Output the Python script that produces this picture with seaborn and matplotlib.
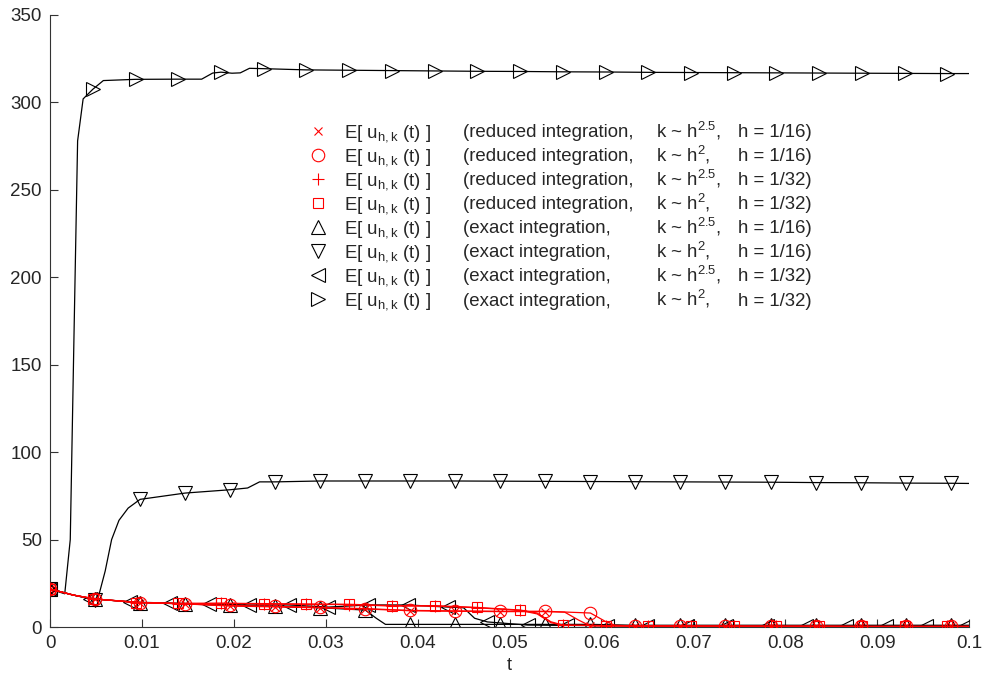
import matplotlib
matplotlib.use("Agg")
import matplotlib.pyplot as plt
from matplotlib.lines import Line2D
import pandas as pd
import seaborn as sns

# marker times (h = 1/16 runs, h = 1/32 runs, exact h = 1/32 k ~ h^2.5 run)
t_h16 = [0, 0.0049, 0.0098, 0.0147, 0.0196, 0.0245, 0.0294, 0.0343, 0.0392, 0.0441,
         0.049, 0.0539, 0.0588, 0.0637, 0.0686, 0.0735, 0.0784, 0.0833, 0.0882, 0.0931, 0.098]
t_h32 = [0, 0.00465, 0.0093, 0.01395, 0.0186, 0.02325, 0.0279, 0.03255, 0.0372, 0.04185, 0.0465,
         0.05115, 0.0558, 0.06045, 0.0651, 0.06975, 0.0744, 0.07905, 0.0837, 0.08835, 0.093, 0.09765]
t_lt = [0, 0.00433, 0.00866, 0.013, 0.0173, 0.0217, 0.026, 0.0303, 0.0346, 0.039, 0.0433, 0.0476,
        0.052, 0.0563, 0.0606, 0.065, 0.0693, 0.0736, 0.078, 0.0823, 0.0866, 0.091, 0.0953, 0.0996]

red_x = [21.7, 16, 14, 13.2, 12, 11.5, 11, 10.3, 9.3, 9, 8.8, 8.8, 0.6, 0.5, 0.5, 0.4, 0.4, 0.4, 0.3, 0.3, 0.3]
red_o = [21.7, 16, 14, 13.3, 12.3, 11.8, 11.2, 10.5, 9.5, 9.2, 9, 9, 8, 0.5, 0.5, 0.4, 0.4, 0.4, 0.3, 0.3, 0.3]
red_plus = [21.7, 16.2, 14, 13.4, 13.5, 13.2, 13, 12.8, 12, 12, 11, 9.5, 1,
            0.8, 0.6, 0.5, 0.5, 0.4, 0.4, 0.3, 0.3, 0.3]
red_sq = [21.7, 16.2, 14, 13.5, 13.6, 13.4, 13.1, 13, 12.2, 12.2, 11.2, 9.7, 1.1,
          0.8, 0.6, 0.5, 0.5, 0.4, 0.4, 0.3, 0.3, 0.3]
blk_up = [21.7, 16, 14, 13.2, 12.3, 11.8, 11, 9.7, 1.5, 1.5, 1.5, 1.5, 1.5, 1, 1, 1, 1, 1, 1, 1, 1]
blk_down = [21.7, 15.5, 73, 76.6, 78.5, 83, 83.5, 83.5, 83.5, 83.5, 83.4, 83.3, 83.2,
            83.1, 83, 82.9, 82.8, 82.6, 82.5, 82.3, 82.2]
blk_left = [21.7, 16.3, 14.3, 13.7, 13.2, 12.6, 12.6, 11.4, 12.6, 12.6, 11.4, 2.9, 1.1,
            0.9, 0.8, 0.7, 0.6, 0.6, 0.5, 0.5, 0.5, 0.5, 0.5, 0.5]
blk_right = [21.7, 307.5, 313.2, 313.3, 317.3, 319.3, 318.6, 318.4, 318.2, 318, 317.8, 317.7,
             317.5, 317.4, 317.2, 317.1, 317, 316.9, 316.8, 316.7, 316.6, 316.5]

# extra points of the lines between markers (t, value)
ext_x = [(0.0025, 18.3), (0.056, 8.5), (0.0575, 4), (0.1, 0.3)]
ext_o = [(0.0025, 18.3), (0.0605, 3), (0.0615, 1), (0.1, 0.3)]
ext_plus = [(0.0025, 18.3), (0.053, 7.5), (0.0545, 2.5), (0.1, 0.3)]
ext_sq = [(0.0025, 18.3), (0.053, 8), (0.0545, 3), (0.1, 0.3)]
ext_up = [(0.0025, 18.3), (0.0355, 5), (0.0365, 1.5), (0.1, 1)]
ext_down = [(0.0025, 18.3), (0.0054, 20), (0.006, 32), (0.0067, 50), (0.0075, 61), (0.0085, 68),
            (0.0215, 79.5), (0.0228, 83), (0.1, 82.1)]
ext_left = [(0.0025, 18.3), (0.045, 11), (0.0462, 5), (0.1, 0.5)]
ext_right = [(0.0016, 19), (0.0022, 50), (0.0026, 165), (0.003, 278), (0.0036, 302),
             (0.0058, 312.5), (0.0165, 313.3), (0.0177, 316.8), (0.0198, 316.7),
             (0.0207, 316.9), (0.0217, 319.5), (0.1, 316.5)]

integ = ["reduced", "reduced", "reduced", "reduced", "exact", "exact", "exact", "exact"]
k_exp = ["2.5", "2", "2.5", "2", "2.5", "2", "2.5", "2"]
h_val = ["1/16", "1/16", "1/32", "1/32", "1/16", "1/16", "1/32", "1/32"]

x_ticks = [0, 0.01, 0.02, 0.03, 0.04, 0.05, 0.06, 0.07, 0.08, 0.09, 0.1]
x_labels = ["0", "0.01", "0.02", "0.03", "0.04", "0.05", "0.06", "0.07", "0.08", "0.09", "0.1"]
y_ticks = [0, 50, 100, 150, 200, 250, 300, 350]

sns.set_style("ticks")
plt.rcParams["font.family"] = ["Liberation Sans", "DejaVu Sans"]
plt.rcParams["mathtext.fontset"] = "custom"
plt.rcParams["mathtext.rm"] = "Liberation Sans"
plt.rcParams["mathtext.it"] = "Liberation Sans:italic"

series = [
    (t_h16, red_x, ext_x, "red", "x", 6),
    (t_h16, red_o, ext_o, "red", "o", 9),
    (t_h32, red_plus, ext_plus, "red", "+", 9),
    (t_h32, red_sq, ext_sq, "red", "s", 7.5),
    (t_h16, blk_up, ext_up, "black", "^", 10),
    (t_h16, blk_down, ext_down, "black", "v", 10),
    (t_lt, blk_left, ext_left, "black", "<", 10),
    (t_h32, blk_right, ext_right, "black", ">", 10),
]

fig = plt.figure(figsize=(9.89, 6.75), dpi=100)
ax = fig.add_axes([0.0506, 0.0711, 0.9292, 0.9067])

handles = []
for t, y, ext, col, mk, ms in series:
    df = pd.DataFrame({
        "t": list(t) + [p[0] for p in ext],
        "y": list(y) + [p[1] for p in ext],
        "mark": [True] * len(t) + [False] * len(ext),
    }).sort_values("t")
    sns.lineplot(data=df, x="t", y="y", ax=ax, estimator=None, sort=False, legend=False,
                 color=col, lw=0.9, marker=mk, markersize=ms, markevery=list(df["mark"]),
                 markeredgecolor=col, markerfacecolor="none", markeredgewidth=0.8,
                 zorder=3 if col == "red" else 2)
    handles.append(Line2D([], [], ls="none", marker=mk, markersize=ms, markeredgecolor=col,
                          markerfacecolor="none", markeredgewidth=0.8))

ax.set_xlim(0, 0.1)
ax.set_ylim(0, 350)
ax.set_xticks(x_ticks)
ax.set_xticklabels(x_labels)
ax.set_yticks(y_ticks)
ax.tick_params(direction="in", length=6, width=0.8, color="#333333", labelsize=13.5, pad=6)
for side in ["top", "right"]:
    ax.spines[side].set_visible(False)
for side in ["left", "bottom"]:
    ax.spines[side].set_color("#333333")
    ax.spines[side].set_linewidth(0.8)
ax.set_xlabel("t", fontsize=13, labelpad=3)
ax.set_ylabel("")

fs = 13.4
labels = [r"E[ u$_{\mathrm{h,k}}$ (t) ]"] * 8
leg = ax.legend(handles, labels, loc="upper left", bbox_to_anchor=(0.284, 0.824),
                frameon=False, fontsize=fs, handlelength=0.8, handletextpad=0.95,
                labelspacing=0.17, borderpad=0, borderaxespad=0)

# the other legend columns, on the baselines of the legend rows
fig.canvas.draw()
inv = ax.transAxes.inverted()
for i, txt in enumerate(leg.get_texts()):
    base = txt.get_transform().transform(txt.get_position())
    yb = inv.transform(base)[1]
    ax.text(0.4494, yb, "(" + integ[i] + " integration,", fontsize=fs, va="baseline",
            transform=ax.transAxes)
    ax.text(0.6594, yb, "k ~ h$^{" + k_exp[i] + "}$,", fontsize=fs, va="baseline",
            transform=ax.transAxes)
    ax.text(0.7486, yb, "h = " + h_val[i] + ")", fontsize=fs, va="baseline",
            transform=ax.transAxes)

fig.savefig("out.png", dpi=100)
